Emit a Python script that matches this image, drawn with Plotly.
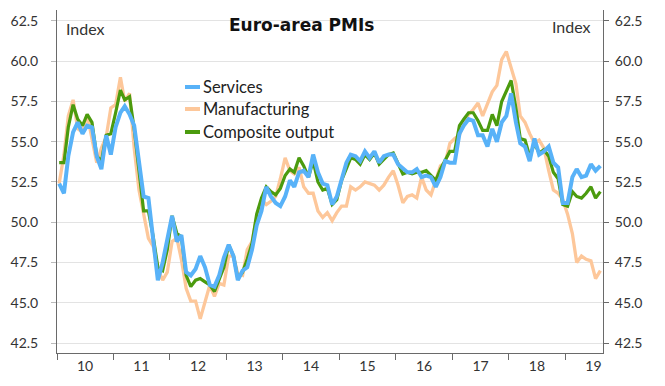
import plotly.graph_objects as go
import pandas as pd

# Monthly euro-area PMIs, Jan 2010 - Aug 2019
dates = pd.date_range("2010-01-01", periods=116, freq="MS") + pd.Timedelta(days=14)

services = [
    52.4, 51.8, 54.1, 55.6, 56.2, 55.5, 56.0, 55.9, 54.1, 53.3, 55.4, 54.2,
    55.9, 56.8, 57.2, 56.7, 56.0, 53.7, 51.6, 51.5, 48.8, 46.4, 47.5, 48.8,
    50.4, 48.8, 49.2, 46.9, 46.7, 47.1, 47.9, 47.2, 46.1, 46.0, 46.7, 47.8,
    48.6, 47.9, 46.4, 47.0, 47.2, 48.3, 49.8, 50.7, 52.2, 51.6, 51.2, 51.0,
    51.6, 52.6, 52.2, 53.1, 53.2, 52.8, 54.2, 53.1, 52.4, 52.3, 51.1, 51.6,
    52.7, 53.7, 54.2, 54.1, 53.8, 54.4, 54.0, 54.4, 53.7, 54.1, 54.2, 54.2,
    53.6, 53.3, 53.1, 53.1, 53.3, 52.8, 52.9, 52.8, 52.2, 52.8, 53.8, 53.7,
    53.7, 55.5, 56.0, 56.4, 56.3, 55.4, 55.4, 54.7, 55.8, 55.0, 56.2, 56.6,
    58.0, 56.2, 54.9, 54.7, 53.8, 55.2, 54.2, 54.4, 54.7, 53.7, 53.4, 51.2,
    51.2, 52.8, 53.3, 52.8, 52.9, 53.6, 53.2, 53.5,
]

manufacturing = [
    52.4, 54.2, 56.6, 57.6, 55.8, 55.6, 56.7, 55.1, 53.7, 54.6, 55.3, 57.1,
    57.3, 59.0, 57.5, 58.0, 54.6, 52.0, 50.4, 49.0, 48.5, 47.1, 46.4, 46.9,
    48.8, 49.0, 47.7, 45.9, 45.1, 45.1, 44.0, 45.1, 46.1, 45.4, 46.2, 46.1,
    47.9, 47.9, 46.8, 46.7, 48.3, 48.8, 50.3, 51.4, 51.1, 51.3, 51.6, 52.7,
    54.0, 53.2, 53.0, 53.4, 52.2, 51.8, 51.8, 50.7, 50.3, 50.6, 50.1, 50.6,
    51.0, 51.0, 52.2, 52.0, 52.2, 52.5, 52.4, 52.3, 52.0, 52.3, 52.8, 53.2,
    52.3, 51.2, 51.6, 51.7, 51.5, 52.8, 52.0, 51.7, 52.6, 53.5, 53.7, 54.9,
    55.2, 55.4, 56.2, 56.7, 57.0, 57.4, 56.6, 57.4, 58.1, 58.5, 60.1, 60.6,
    59.6, 58.6, 56.6, 56.2, 55.5, 54.9, 55.1, 54.6, 53.2, 52.0, 51.8, 51.4,
    50.5, 49.3, 47.5, 47.9, 47.7, 47.6, 46.5, 47.0,
]

composite = [
    53.7, 53.7, 55.9, 57.3, 56.4, 56.0, 56.7, 56.2, 54.1, 53.8, 55.4, 55.5,
    56.8, 58.2, 57.6, 57.8, 55.8, 53.3, 50.7, 50.7, 49.1, 47.2, 47.0, 48.3,
    50.4, 49.3, 49.1, 46.7, 46.0, 46.4, 46.5, 46.3, 46.1, 45.7, 46.5, 47.2,
    48.6, 47.9, 46.5, 46.9, 47.7, 48.7, 50.5, 51.5, 52.2, 51.9, 51.7, 52.1,
    52.9, 53.3, 53.1, 54.0, 53.5, 52.8, 53.8, 52.5, 52.0, 52.1, 51.1, 51.4,
    52.6, 53.3, 54.0, 53.9, 53.6, 54.2, 53.9, 54.3, 53.6, 53.9, 54.2, 54.3,
    53.6, 53.0, 53.1, 53.0, 53.1, 53.1, 53.2, 52.9, 52.6, 53.3, 53.9, 54.4,
    54.4, 56.0, 56.4, 56.8, 56.8, 56.3, 55.7, 55.7, 56.7, 56.0, 57.5, 58.1,
    58.8, 57.1, 55.2, 55.1, 54.1, 54.9, 54.3, 54.5, 54.1, 53.1, 52.7, 51.1,
    51.0, 51.9, 51.6, 51.5, 51.8, 52.2, 51.5, 51.9,
]

year_ticks = [f"{y}-07-01" for y in range(2010, 2020)]
year_labels = ["10", "11", "12", "13", "14", "15", "16", "17", "18", "19"]
y_ticks = [42.5, 45.0, 47.5, 50.0, 52.5, 55.0, 57.5, 60.0, 62.5]
y_labels = [f"{v:.1f}" for v in y_ticks]

C_SERV = "#58b2f8"
C_MANU = "#fdc79a"
C_COMP = "#4b9b0e"
FONT = "Lato"

fig = go.Figure()
fig.add_trace(go.Scatter(x=dates, y=manufacturing, mode="lines", name="Manufacturing",
                         line=dict(color=C_MANU, width=3.3), showlegend=False))
fig.add_trace(go.Scatter(x=dates, y=composite, mode="lines", name="Composite output",
                         line=dict(color=C_COMP, width=3.2), showlegend=False))
fig.add_trace(go.Scatter(x=dates, y=services, mode="lines", name="Services",
                         line=dict(color=C_SERV, width=4), showlegend=False))
# invisible trace to activate right axis
fig.add_trace(go.Scatter(x=dates[:1], y=services[:1], yaxis="y2", mode="lines",
                         line=dict(width=0), showlegend=False, hoverinfo="skip"))

yr = [41.88, 63.18]
axis_col = "#6a6a6a"
# page body has an 8px default margin, so the figure is 657x378 and offsets are compensated
fig.update_layout(
    width=657, height=378,
    margin=dict(l=49, r=62, t=2, b=33),
    paper_bgcolor="white", plot_bgcolor="white",
    font=dict(family=FONT, size=14, color="#333333"),
    xaxis=dict(
        type="date", range=["2010-01-01", "2019-09-01"], automargin=False,
        tickvals=year_ticks, ticktext=year_labels, ticks="", ticklabelstandoff=0,
        showgrid=False, showline=True, linecolor=axis_col, linewidth=1,
        minor=dict(ticks="outside", ticklen=6, tickcolor=axis_col,
                   dtick="M12", tick0="2010-01-01", showgrid=False),
        tickfont=dict(size=14, color="#333333"),
    ),
    yaxis=dict(
        range=yr, tickvals=y_ticks, ticktext=y_labels, automargin=False,
        showgrid=True, gridcolor="#e3e3e3", gridwidth=1,
        showline=True, linecolor=axis_col, linewidth=1,
        ticks="outside", ticklen=5, tickcolor="#bbbbbb", ticklabelstandoff=10,
        zeroline=False, tickfont=dict(size=14, color="#333333"),
    ),
    yaxis2=dict(
        range=yr, tickvals=y_ticks, ticktext=y_labels, overlaying="y", side="right",
        automargin=False,
        showgrid=False, showline=True, linecolor=axis_col, linewidth=1,
        ticks="outside", ticklen=5, tickcolor=axis_col, ticklabelstandoff=3,
        zeroline=False, tickfont=dict(size=14, color="#333333"),
    ),
    showlegend=False,
)

# helpers converting screen pixel positions (reference image) to paper coords
def px_x(p):
    return (p - 57) / 546

def px_y(p):
    return (353 - p) / 343

annotations = [
    dict(text="<b>Euro-area PMIs</b>", x=px_x(301), y=px_y(25), xanchor="center", yanchor="middle",
         font=dict(size=17, color="#111111", family="DejaVu Sans")),
    dict(text="Index", x=px_x(64), y=px_y(28), xanchor="left", yanchor="middle",
         font=dict(size=16, color="#333333", family=FONT)),
    dict(text="Index", x=px_x(593), y=px_y(26), xanchor="right", yanchor="middle",
         font=dict(size=16, color="#333333", family=FONT)),
]
legend_items = [("Services", C_SERV, 87), ("Manufacturing", C_MANU, 109), ("Composite output", C_COMP, 132)]
shapes = []
for name, col, ypx in legend_items:
    annotations.append(dict(text=name, x=px_x(201), y=px_y(ypx), xanchor="left", yanchor="middle",
                            font=dict(size=16.5, color="#222222", family=FONT)))
    shapes.append(dict(type="line", xref="paper", yref="paper", x0=px_x(185), x1=px_y(0) * 0 + px_x(200),
                       y0=px_y(ypx), y1=px_y(ypx), line=dict(color=col, width=4)))
for a in annotations:
    a.update(xref="paper", yref="paper", showarrow=False)
fig.update_layout(annotations=annotations, shapes=shapes)

fig.write_html("out.html")
